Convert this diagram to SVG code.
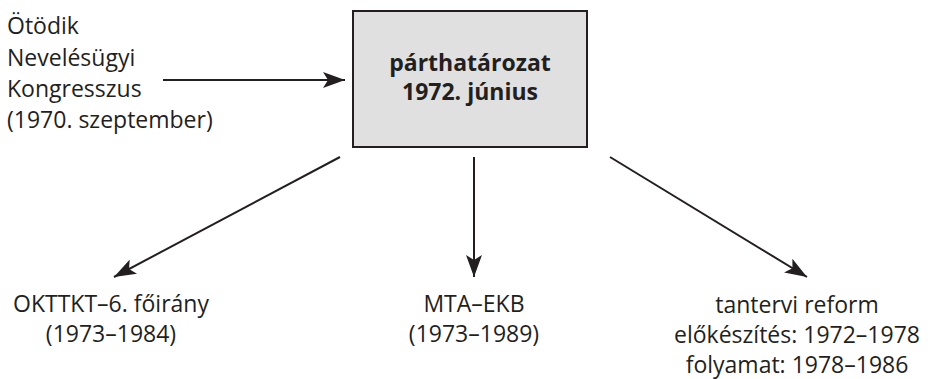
<svg xmlns="http://www.w3.org/2000/svg" width="941" height="379" viewBox="0 0 941 379">
<style>
text{font-family:"Open Sans","Noto Sans","Liberation Sans",sans-serif;font-size:23px;fill:#231f20}
.b{font-weight:bold}
.c{text-anchor:middle}
.ln{stroke:#231f20;stroke-width:2;fill:none;marker-end:url(#ah)}
</style>
<defs>
<marker id="ah" viewBox="0 0 22 16" refX="22" refY="8" markerWidth="22" markerHeight="16" markerUnits="userSpaceOnUse" orient="auto">
<path d="M0,0 L22,8 L0,16 L5,8 Z" fill="#231f20"/>
</marker>
</defs>
<rect width="941" height="379" fill="#fff"/>
<g id="n-congress">
<text x="7" y="34">Ötödik</text>
<text x="7" y="66">Nevelésügyi</text>
<text x="7" y="97">Kongresszus</text>
<text x="7" y="128">(1970. szeptember)</text>
</g>
<g id="n-party">
<rect x="353" y="11" width="234" height="136" fill="#e0e0e1" stroke="#231f20" stroke-width="2"/>
<text class="b c" x="470" y="71">párthatározat</text>
<text class="b c" x="470" y="100">1972. június</text>
</g>
<g id="n-okttkt">
<text class="c" x="111" y="312">OKTTKT–6. főirány</text>
<text class="c" x="111" y="342">(1973–1984)</text>
</g>
<g id="n-mta">
<text class="c" x="474" y="312">MTA–EKB</text>
<text class="c" x="474" y="342">(1973–1989)</text>
</g>
<g id="n-reform">
<text class="c" x="797" y="313">tantervi reform</text>
<text class="c" x="797" y="343">előkészítés: 1972–1978</text>
<text class="c" x="797" y="373">folyamat: 1978–1986</text>
</g>
<g id="connectors">
<line class="ln" x1="163" y1="80" x2="345" y2="80"/>
<line class="ln" x1="340" y1="157" x2="114" y2="277"/>
<line class="ln" x1="474" y1="157" x2="474" y2="277"/>
<line class="ln" x1="610" y1="157" x2="807" y2="277"/>
</g>
</svg>
